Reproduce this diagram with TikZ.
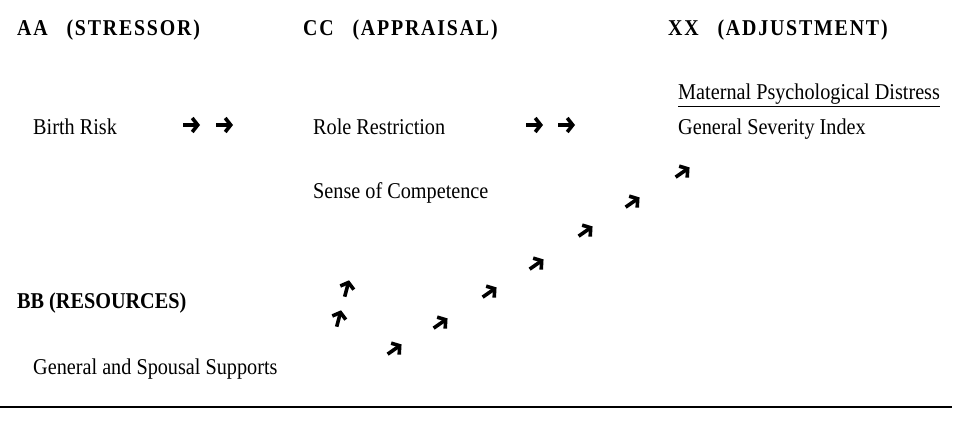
\documentclass[tikz,border=0pt]{standalone}
\usepackage{fontspec}
\setmainfont{Liberation Serif}
\newfontfamily\itemfont[FakeStretch=0.895]{Liberation Serif}
\newfontfamily\headfont[FakeStretch=0.88, LetterSpace=8]{Liberation Serif}
\usetikzlibrary{positioning}
\usetikzlibrary{arrows.meta}

\tikzset{
	head/.style={anchor=base west, inner sep=0pt, font=\headfont\fontsize{22.6}{26}\selectfont\bfseries},
	item/.style={anchor=base west, inner sep=0pt, font=\itemfont\fontsize{22.6}{26}\selectfont},
	fat/.pic={\draw[line width=3.6pt, -{Straight Barb[length=5.5pt, width=14pt]}] (-9,0) -- (8,0);}
}

\begin{document}
\begin{tikzpicture}[x=1pt, y=-1pt]
	\useasboundingbox (0,0) rectangle (956,430);

	\node [head] (aa) at (17,35.5) {AA\hspace{12pt} (STRESSOR)};
	\node [head] (cc) at (303,35.5) {CC\hspace{12pt} (APPRAISAL)};
	\node [head] (xx) at (668,35.5) {XX\hspace{12pt} (ADJUSTMENT)};
	\node [item, font=\itemfont\fontsize{22.6}{26}\selectfont\bfseries] (bb) at (17,308.5) {BB (RESOURCES)};

	\node [item] (mpd) at (678,99.5) {\underline{Maternal Psychological Distress}};
	\node [item] (birth) at (33,134.5) {Birth Risk};
	\node [item] (role) at (313,134.5) {Role Restriction};
	\node [item] (gsi) at (678,134.5) {General Severity Index};
	\node [item] (sense) at (313,198.5) {Sense of Competence};
	\node [item] (supp) at (33,374) {General and Spousal Supports};

	% right arrows
	\foreach \x in {192,225,535,567}
		\pic at (\x,125) {fat};
	% up arrows
	\foreach \x/\y in {347/288,339/318}
		\pic [rotate=75] at (\x,\y) {fat};
	% diagonal arrows
	\foreach \x/\y in {395/349,441/323,490/292,537/264,586/231,633/202,683/172}
		\pic [rotate=35] at (\x,\y) {fat};

	\coordinate (rl) at (0,407);
	\coordinate (rr) at (952,407);
	\draw [line width=1.5pt] (rl) -- (rr);
\end{tikzpicture}
\end{document}
